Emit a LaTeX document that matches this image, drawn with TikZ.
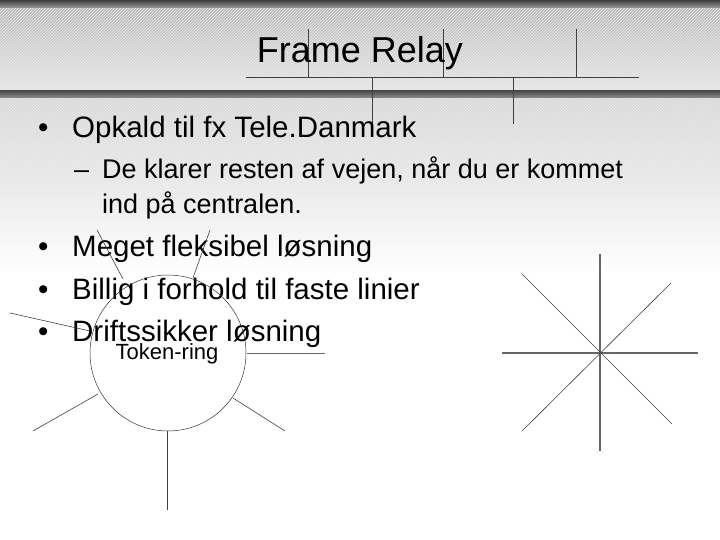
\documentclass[tikz,border=0pt]{standalone}
\usepackage{fontspec}
\setmainfont{Liberation Sans}
\usetikzlibrary{patterns}
\begin{document}
\begin{tikzpicture}[x=1pt,y=-1pt,
  ln/.style={draw=black!75,line width=0.6pt},
  thk/.style={draw=black!60,line width=1.3pt},
  bul/.style={anchor=base west,inner sep=0pt,font=\fontsize{29.5}{31}\selectfont},
  sub/.style={anchor=base west,inner sep=0pt,font=\fontsize{27}{29}\selectfont}]
\useasboundingbox (0,0) rectangle (720,540);
\fill[white] (0,0) rectangle (720,540);
\shade[top color=black!16,bottom color=white] (0,97) rectangle (720,275);
\shade[top color=black!28,bottom color=black!10] (0,8) rectangle (720,89);
\fill[pattern=north east lines,pattern color=black!8] (0,8) rectangle (720,180);
\shade[top color=black!75,bottom color=black!40] (0,0) rectangle (720,8);
\fill[white!90!black] (0,88) rectangle (720,91);
\shade[top color=black!70,bottom color=black!45] (0,91) rectangle (720,98);
% title decoration lines
\coordinate (h1) at (246,77); \coordinate (h2) at (639,77);
\draw[ln] (h1) -- (h2);
\foreach \x in {308,443,576} \draw[ln] (\x,29) -- (\x,77);
\foreach \x in {372,513} \draw[ln] (\x,77) -- (\x,124);
\node (title) at (360,53) {\fontsize{36}{40}\selectfont Frame Relay};
% texts
\node[bul] (b0) at (38,138) {•};
\node[bul] (t1) at (72,138) {Opkald til fx Tele.Danmark};
\node[sub] (d1) at (74,179) {–};
\node[sub] (t2) at (102,179) {De klarer resten af vejen, når du er kommet};
\node[sub] (t3) at (102,214) {ind på centralen.};
\node[bul] at (38,256) {•};
\node[bul] (t4) at (72,256) {Meget fleksibel løsning};
\node[bul] at (38,299) {•};
\node[bul] (t5) at (72,299) {Billig i forhold til faste linier};
\node[bul] at (38,341) {•};
\node[bul] (t6) at (72,341) {Driftssikker løsning};
% token ring
\node[draw=black!80,line width=0.5pt,circle,minimum size=156pt,inner sep=0pt] (ring) at (168,353) {};
\node (tr) at (167,354) {\fontsize{22}{24}\selectfont Token-ring};
\draw[ln] (97,230) -- (123,279);
\draw[ln] (210,230) -- (193,278);
\draw[ln] (10,313) -- (90,331);
\draw[thk,line width=0.9pt] (247,353) -- (325,353);
\draw[ln] (33,431) -- (98,394);
\draw[ln] (233,398) -- (285,431);
\draw[ln] (167,431) -- (167,510);
% star
\coordinate (c) at (600,353);
\draw[thk] (600,254) -- (600,451);
\draw[thk] (502,353) -- (698,353);
\draw[ln] (522,274) -- (672,424);
\draw[ln] (671,283) -- (522,431);
\end{tikzpicture}
\end{document}
